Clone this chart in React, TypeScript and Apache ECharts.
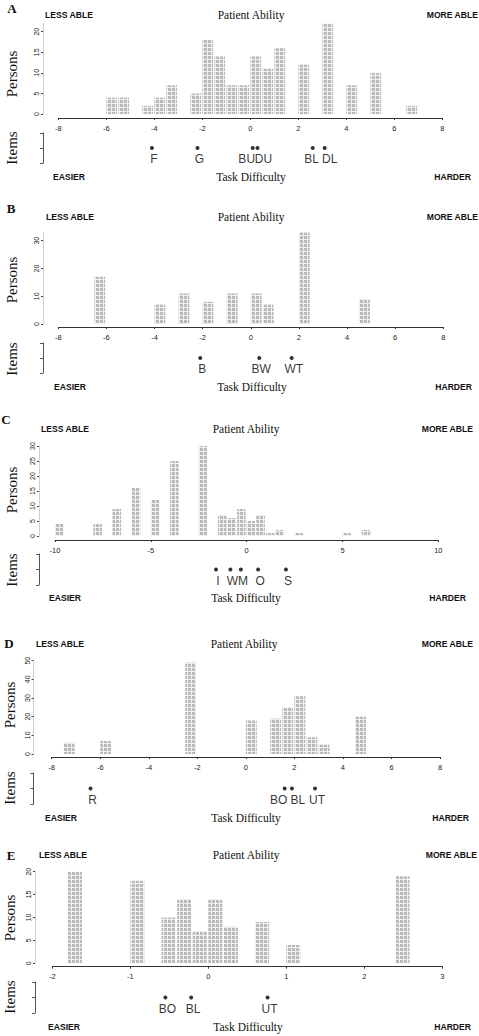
import React, { useEffect, useRef } from "react";
import * as echarts from "echarts";

// ---------- DATA ----------
// Panel A
const binStartA = [-6, -5.5, -4.5, -4, -3.5, -2.5, -2, -1.5, -1, -0.5, 0, 0.5, 1, 2, 3, 4, 5, 6.5];
const countsA = [4, 4, 2, 4, 7, 5, 18, 14, 7, 7, 14, 11, 16, 12, 22, 7, 10, 2];
const itemNamesA = ["F", "G", "BU", "DU", "BL", "DL"];
const itemPosA = [-4.1, -2.2, 0.1, 0.3, 2.6, 3.1];
const yTicksA = [0, 5, 10, 15, 20];

// Panel B
const binStartB = [-6.5, -4, -3, -2, -1, 0, 0.5, 2, 4.5];
const countsB = [17, 7, 11, 8, 11, 11, 7, 33, 9];
const itemNamesB = ["B", "BW", "WT"];
const itemPosB = [-2.1, 0.35, 1.7];
const yTicksB = [0, 10, 20, 30];

// Panel C
const binStartC = [-10, -8, -7, -6, -5, -4, -2.5, -1.5, -1, -0.5, 0, 0.5, 1, 1.5, 2.5, 5, 6];
const countsC = [4, 4, 9, 16, 12, 25, 30, 7, 6, 9, 5, 7, 1, 2, 1, 1, 2];
const itemNamesC = ["I", "W", "M", "O", "S"];
const itemPosC = [-1.6, -0.85, -0.3, 0.6, 2.05];
const yTicksC = [0, 5, 10, 15, 20, 25, 30];

// Panel D
const binStartD = [-7.5, -6, -2.5, 0, 1, 1.5, 2, 2.5, 3, 4.5];
const countsD = [6, 7, 49, 18, 19, 25, 31, 9, 5, 20];
const itemNamesD = ["R", "BO", "BL", "UT"];
const itemPosD = [-6.4, 1.6, 1.9, 2.85];
const yTicksD = [0, 10, 20, 30, 40, 50];

// Panel E
const binStartE = [-1.8, -1, -0.6, -0.4, -0.2, 0, 0.2, 0.6, 1, 2.4];
const countsE = [20, 18, 10, 14, 7, 14, 8, 9, 4, 19];
const itemNamesE = ["BO", "BL", "UT"];
const itemPosE = [-0.55, -0.22, 0.76];
const yTicksE = [0, 5, 10, 15, 20];

const panelLetters = ["A", "B", "C", "D", "E"];

const PANELS = [
  { bins: binStartA, counts: countsA, names: itemNamesA, pos: itemPosA, yTicks: yTicksA, yMax: 22, xMin: -8, xMax: 8, xStep: 2, binWidth: 0.5 },
  { bins: binStartB, counts: countsB, names: itemNamesB, pos: itemPosB, yTicks: yTicksB, yMax: 33, xMin: -8, xMax: 8, xStep: 2, binWidth: 0.5 },
  { bins: binStartC, counts: countsC, names: itemNamesC, pos: itemPosC, yTicks: yTicksC, yMax: 30, xMin: -10, xMax: 10, xStep: 5, binWidth: 0.5 },
  { bins: binStartD, counts: countsD, names: itemNamesD, pos: itemPosD, yTicks: yTicksD, yMax: 50, xMin: -8, xMax: 8, xStep: 2, binWidth: 0.5 },
  { bins: binStartE, counts: countsE, names: itemNamesE, pos: itemPosE, yTicks: yTicksE, yMax: 20, xMin: -2, xMax: 3, xStep: 1, binWidth: 0.2 },
];

// ---------- LAYOUT (pixels) ----------
const LAYOUT = [
  { letter: [12, 8], title: 15, lessX: 45, centerX: 251, moreX: 478, left: 58.3, right: 442.3, zeroY: 114, topY: 23.5, axisOff: 4, itemsTop: 133, itemsBottom: 163, axisX: 43, bottom: 177, easierX: 53, taskX: 251, hardX: 471, personsX: 12, personsY: 74, itemsLblY: 148 },
  { letter: [11, 208], title: 217, lessX: 46, centerX: 251, moreX: 478, left: 58.3, right: 443.3, zeroY: 324, topY: 232.4, axisOff: 3, itemsTop: 343, itemsBottom: 373, axisX: 43, bottom: 387, easierX: 54, taskX: 252, hardX: 472, personsX: 12, personsY: 280, itemsLblY: 359 },
  { letter: [6, 419], title: 429, lessX: 41, centerX: 246, moreX: 473, left: 55, right: 438.3, zeroY: 536, topY: 446, axisOff: 4, itemsTop: 554, itemsBottom: 585, axisX: 39, bottom: 598, easierX: 49, taskX: 246, hardX: 466, personsX: 12, personsY: 490, itemsLblY: 570 },
  { letter: [9, 643], title: 644, lessX: 36, centerX: 244, moreX: 473, left: 51.7, right: 440, zeroY: 754, topY: 660.7, axisOff: 3, itemsTop: 773, itemsBottom: 804, axisX: 33.5, bottom: 818, easierX: 45, taskX: 246, hardX: 469, personsX: 10, personsY: 705, itemsLblY: 788 },
  { letter: [11, 855], title: 855, lessX: 39, centerX: 246, moreX: 477, left: 52.3, right: 442.3, zeroY: 963.3, topY: 871.7, axisOff: 3.4, itemsTop: 982, itemsBottom: 1013, axisX: 35, bottom: 1027, easierX: 48, taskX: 248, hardX: 471, personsX: 10, personsY: 918, itemsLblY: 997 },
];

// label horizontal shifts (style only)
const LABEL_SHIFT: Record<string, number>[] = [
  { BU: -6, DU: 6, BL: -1, DL: 5 },
  {},
  {},
  { BO: -6, BL: 6 },
  {},
];

const SANS = '"Liberation Sans", Arial, Helvetica, sans-serif';
const SERIF = '"Liberation Serif", "Times New Roman", serif';
const BAR_FILL = 0.9;

function buildOption(pattern: any) {
  const grid: any[] = [];
  const xAxis: any[] = [];
  const yAxis: any[] = [];
  const series: any[] = [];
  const graphic: any[] = [];

  PANELS.forEach((p, i) => {
    const L = LAYOUT[i];
    const w = L.right - L.left;
    grid.push({ left: L.left, top: L.topY, width: w, height: L.zeroY - L.topY, outerBoundsMode: "none" });
    grid.push({ left: L.left, top: L.itemsTop, width: w, height: L.itemsBottom - L.itemsTop, outerBoundsMode: "none" });

    xAxis.push({
      gridIndex: 2 * i,
      type: "value",
      position: "bottom",
      min: p.xMin,
      max: p.xMax,
      interval: p.xStep,
      offset: L.axisOff,
      axisLine: { show: true, onZero: false, lineStyle: { color: "#333", width: 1 } },
      axisTick: { show: true, length: 2, lineStyle: { color: "#333" } },
      axisLabel: { fontSize: 7.5, color: "#222", margin: 6, fontFamily: SANS },
      splitLine: { show: false },
    });
    xAxis.push({ gridIndex: 2 * i + 1, type: "value", min: p.xMin, max: p.xMax, show: false, axisLine: { onZero: false } });

    yAxis.push({
      gridIndex: 2 * i,
      type: "value",
      position: "left",
      min: 0,
      max: p.yMax,
      offset: L.left - L.axisX,
      axisLine: { show: true, onZero: false, lineStyle: { color: "#cfcfcf", width: 1 } },
      axisTick: { show: true, length: 2, customValues: p.yTicks, lineStyle: { color: "#444" } },
      axisLabel: { show: true, customValues: p.yTicks, rotate: 90, fontSize: 7, color: "#222", margin: 3, fontFamily: SANS },
      splitLine: { show: false },
    });
    yAxis.push({
      gridIndex: 2 * i + 1,
      type: "value",
      position: "left",
      min: 0,
      max: 2,
      interval: 1,
      offset: L.left - L.axisX,
      axisLine: { show: true, onZero: false, lineStyle: { color: "#555", width: 1 } },
      axisTick: { show: true, length: 3, lineStyle: { color: "#555" } },
      axisLabel: { show: false },
      splitLine: { show: false },
    });

    const bw = p.binWidth * BAR_FILL;
    series.push({
      type: "custom",
      xAxisIndex: 2 * i,
      yAxisIndex: 2 * i,
      data: p.bins.map((b, k) => [b, p.counts[k]]),
      renderItem: (_params: any, api: any) => {
        const x0 = api.value(0);
        const h = api.value(1);
        const a = api.coord([x0, h]);
        const b = api.coord([x0 + bw, 0]);
        return {
          type: "rect",
          shape: { x: a[0], y: a[1], width: b[0] - a[0], height: b[1] - a[1] },
          style: { fill: pattern },
        };
      },
    });

    const shifts = LABEL_SHIFT[i];
    series.push({
      type: "scatter",
      xAxisIndex: 2 * i + 1,
      yAxisIndex: 2 * i + 1,
      symbol: "circle",
      symbolSize: 4,
      itemStyle: { color: "#000" },
      label: {
        show: true,
        position: "bottom",
        distance: 3,
        formatter: "{b}",
        fontSize: 12,
        fontFamily: SANS,
        color: "#000",
      },
      data: p.names.map((n, k) => ({
        name: n,
        value: [p.pos[k], 1],
        label: { offset: [shifts[n] !== undefined ? shifts[n] : 2, 0] },
      })),
    });

    const capFont = { fontFamily: SANS, fontSize: 8.6, fontWeight: "bold", fill: "#111" };
    const serifFont = { fontFamily: SERIF, fontSize: 11.5, fill: "#111" };
    graphic.push(
      { type: "text", x: L.letter[0], y: L.letter[1], style: { text: panelLetters[i], fontFamily: SERIF, fontSize: 13, fontWeight: "bold", fill: "#111", align: "center", verticalAlign: "middle" } },
      { type: "text", x: L.lessX, y: L.title, style: { ...capFont, text: "LESS ABLE", align: "left", verticalAlign: "middle" } },
      { type: "text", x: L.centerX, y: L.title, style: { ...serifFont, text: "Patient Ability", align: "center", verticalAlign: "middle" } },
      { type: "text", x: L.moreX, y: L.title, style: { ...capFont, text: "MORE ABLE", align: "right", verticalAlign: "middle" } },
      { type: "text", x: L.easierX, y: L.bottom, style: { ...capFont, text: "EASIER", align: "left", verticalAlign: "middle" } },
      { type: "text", x: L.taskX, y: L.bottom, style: { ...serifFont, text: "Task Difficulty", align: "center", verticalAlign: "middle" } },
      { type: "text", x: L.hardX, y: L.bottom, style: { ...capFont, text: "HARDER", align: "right", verticalAlign: "middle" } },
      { type: "text", x: L.personsX, y: L.personsY, rotation: Math.PI / 2, style: { text: "Persons", fontFamily: SERIF, fontSize: 15, fill: "#111", align: "center", verticalAlign: "middle" } },
      { type: "text", x: L.personsX, y: L.itemsLblY, rotation: Math.PI / 2, style: { text: "Items", fontFamily: SERIF, fontSize: 15, fill: "#111", align: "center", verticalAlign: "middle" } }
    );
  });

  return {
    animation: false,
    backgroundColor: "#ffffff",
    grid,
    xAxis,
    yAxis,
    series,
    graphic,
  };
}

export default function App() {
  const ref = useRef<HTMLDivElement>(null);
  useEffect(() => {
    document.body.style.margin = "0";
    if (!ref.current) return;
    const c = document.createElement("canvas");
    c.width = 4;
    c.height = 4;
    const ctx = c.getContext("2d");
    if (ctx) {
      ctx.fillStyle = "#f0f0f0";
      ctx.fillRect(0, 0, 4, 4);
      ctx.fillStyle = "#bababa";
      ctx.fillRect(0, 0, 3, 3);
    }
    const pattern = { image: c, repeat: "repeat" };
    const chart = echarts.init(ref.current, null, { renderer: "svg" });
    chart.setOption(buildOption(pattern));
    return () => chart.dispose();
  }, []);
  return (
    <div
      ref={ref}
      style={{ position: "absolute", left: 0, top: 0, width: 479, height: 1036, background: "#fff" }}
    />
  );
}
